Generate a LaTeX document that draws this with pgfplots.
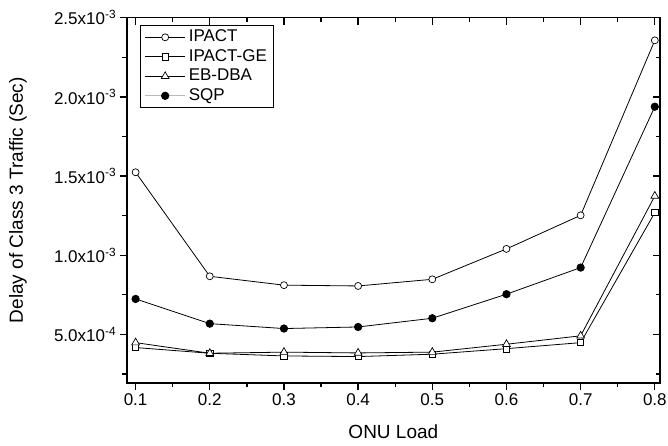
\documentclass[border=0pt]{standalone}
\usepackage{fontspec}
\setmainfont{Liberation Sans}
\usepackage{pgfplots}
\pgfplotsset{compat=1.18}
\begin{document}
\begin{tikzpicture}
\useasboundingbox (-126.7pt,-62.3pt) rectangle (541.3pt,382.7pt);
\pgfplotsset{
  common/.style={
    at={(0,0)}, anchor=south west,
    scale only axis, width=533.3pt, height=365pt,
    xmin=0.088, xmax=0.807, ymin=1.95e-4, ymax=2.5e-3,
    xtick={0.1,0.2,0.3,0.4,0.5,0.6,0.7,0.8},
    minor xtick={0.15,0.25,0.35,0.45,0.55,0.65,0.75},
    ytick={5e-4,1e-3,1.5e-3,2e-3,2.5e-3},
    minor ytick={2.5e-4,7.5e-4,1.25e-3,1.75e-3,2.25e-3},
    scaled y ticks=false, scaled x ticks=false,
    major tick length=7pt, minor tick length=4.5pt,
    axis line style={line width=1.6pt},
    every tick/.style={black, line width=1.3pt},
  }
}
\begin{axis}[common,
  tick align=outside, xtick pos=left, ytick pos=left,
  xticklabels={0.1,0.2,0.3,0.4,0.5,0.6,0.7,0.8},
  yticklabels={{5.0x10\textsuperscript{-4}},{1.0x10\textsuperscript{-3}},{1.5x10\textsuperscript{-3}},{2.0x10\textsuperscript{-3}},{2.5x10\textsuperscript{-3}}},
  /pgf/number format/assume math mode=true,
  tick label style={font=\fontsize{17}{17}\selectfont},
  xlabel={ONU Load}, ylabel={Delay of Class 3 Traffic (Sec)},
  every axis x label/.style={at={(axis description cs:0.5,-0.135)}, anchor=center, font=\fontsize{19}{19}\selectfont},
  every axis y label/.style={at={(axis description cs:-0.204,0.5)}, rotate=90, anchor=center, font=\fontsize{19}{19}\selectfont},
  legend style={at={(0.025,0.98)}, anchor=north west, draw=black, line width=1.1pt,
    font=\fontsize{17}{17}\selectfont, row sep=0pt, inner xsep=4pt, inner ysep=2pt,
    nodes={text height=12.5pt, text depth=4pt, inner ysep=1.5pt, inner xsep=3pt}},
  legend cell align=left,
  legend image code/.code={\draw[mark repeat=2,mark phase=2,#1] plot coordinates {(0pt,0pt) (20pt,0pt) (40pt,0pt)};},
]
\addplot[black, line width=0.8pt, mark=*, mark size=3.5pt, mark options={fill=white, line width=0.7pt}] coordinates {
(0.1,1.524e-3) (0.2,0.867e-3) (0.3,0.811e-3) (0.4,0.806e-3) (0.5,0.848e-3) (0.6,1.040e-3) (0.7,1.252e-3) (0.8,2.357e-3)};
\addlegendentry{IPACT}
\addplot[black, line width=0.8pt, mark=square*, mark size=3.2pt, mark options={fill=white, line width=0.7pt}] coordinates {
(0.1,0.417e-3) (0.2,0.381e-3) (0.3,0.364e-3) (0.4,0.360e-3) (0.5,0.375e-3) (0.6,0.410e-3) (0.7,0.448e-3) (0.8,1.269e-3)};
\addlegendentry{IPACT-GE}
\addplot[black, line width=0.8pt, mark=triangle*, mark size=4.5pt, mark options={fill=white, line width=0.7pt}] coordinates {
(0.1,0.448e-3) (0.2,0.381e-3) (0.3,0.388e-3) (0.4,0.383e-3) (0.5,0.388e-3) (0.6,0.438e-3) (0.7,0.491e-3) (0.8,1.374e-3)};
\addlegendentry{EB-DBA}
\addplot[black, line width=0.8pt, mark=*, mark size=3.7pt, mark options={fill=black},
  legend image code/.code={\draw[gray!55, line width=1.2pt] (0pt,0pt) -- (40pt,0pt); \fill[black] (20pt,0pt) circle (3.7pt);}] coordinates {
(0.1,0.724e-3) (0.2,0.568e-3) (0.3,0.537e-3) (0.4,0.547e-3) (0.5,0.602e-3) (0.6,0.754e-3) (0.7,0.922e-3) (0.8,1.938e-3)};
\addlegendentry{SQP}
\end{axis}
\begin{axis}[common,
  tick align=inside, xtick pos=right, ytick pos=right,
  xticklabels={}, yticklabels={},
]
\end{axis}
\end{tikzpicture}
\end{document}
